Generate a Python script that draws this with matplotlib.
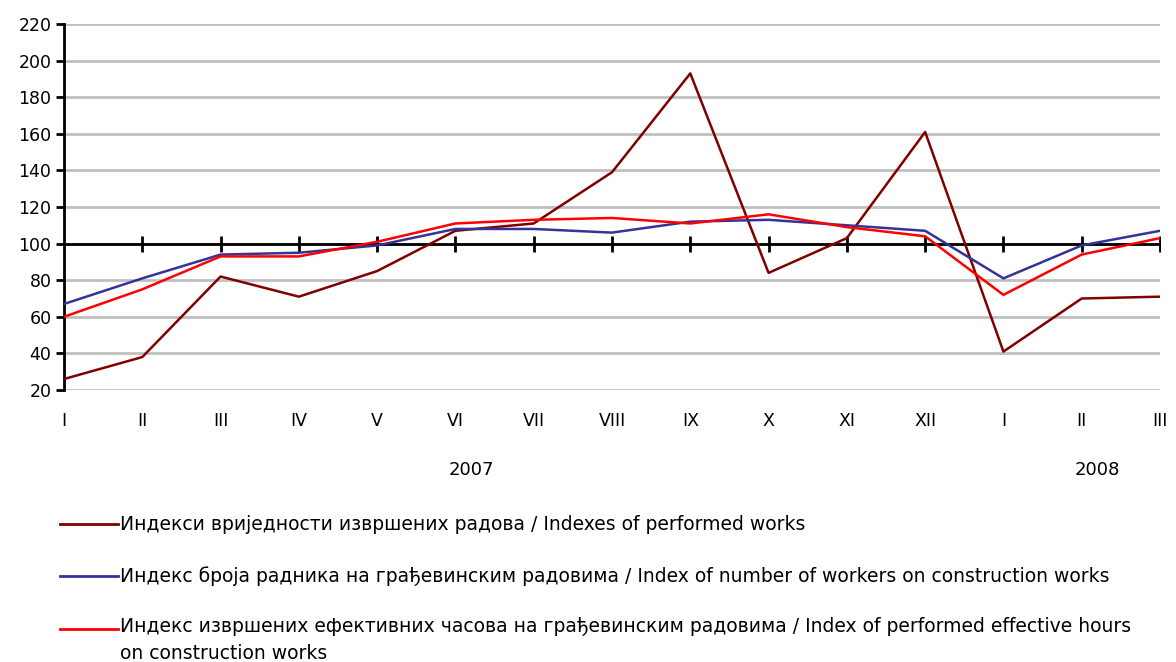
import matplotlib
matplotlib.use("Agg")
import matplotlib.pyplot as plt
from matplotlib.lines import Line2D

############################################################################
##                      Data                                              ##
############################################################################

months = ["I", "II", "III", "IV", "V", "VI", "VII", "VIII", "IX", "X", "XI", "XII",
          "I", "II", "III"]
years = ["2007", "2008"]

performed_works = [26, 38, 82, 71, 85, 107, 111, 139, 193, 84, 103, 161, 41, 70, 71]
workers = [67, 81, 94, 95, 99, 108, 108, 106, 112, 113, 110, 107, 81, 99, 107]
effective_hours = [60, 75, 93, 93, 101, 111, 113, 114, 111, 116, 109, 104, 72, 94, 103]

labels = [
    "Индекси вриједности извршених радова / Indexes of performed works",
    "Индекс броја радника на грађевинским радовима / Index of number of workers on construction works",
    "Индекс извршених ефективних часова на грађевинским радовима / Index of performed effective hours\non construction works",
]
colors = ["#800000", "#333399", "#FF0000"]

yticks = list(range(20, 221, 20))

############################################################################
##                      Plot                                              ##
############################################################################

plt.rcParams['font.family'] = ['DejaVu Sans']
fig = plt.figure(figsize=(11.76, 6.62), dpi=100)
ax = fig.add_axes([64/1176, 1 - 390/662, (1160 - 64)/1176, (390 - 24)/662])

x = list(range(len(months)))

for yv in yticks:
    ax.axhline(yv, color="#C0C0C0", lw=2, zorder=0)

# base line at 100 with category ticks
ax.axhline(100, color="black", lw=2, zorder=1)
ax.plot(x[1:], [100] * (len(x) - 1), ls="none", marker="|", ms=11, mew=2,
        color="black", zorder=1)

series = [performed_works, workers, effective_hours]
for s, c in zip(series, colors):
    ax.plot(x, s, color=c, lw=1.8, zorder=3)

ax.set_xlim(0, len(months) - 1)
ax.set_ylim(20, 220)
ax.set_yticks(yticks)
ax.tick_params(axis="y", labelsize=12.5, length=6, width=2, direction="out", pad=3)
ax.set_xticks(x)
ax.set_xticklabels(months, fontsize=12.5)
ax.tick_params(axis="x", length=0, pad=16)

for sp in ["top", "right", "bottom"]:
    ax.spines[sp].set_visible(False)
ax.spines["left"].set_linewidth(2)

# year labels
ax.text(5.2, -0.218, years[0], transform=ax.get_xaxis_transform(),
        ha="center", va="center", fontsize=13)
ax.text(13.2, -0.218, years[1], transform=ax.get_xaxis_transform(),
        ha="center", va="center", fontsize=13)

# legend, drawn by hand
rows_y = [524, 576, 629]
for lab, c, ry in zip(labels, colors, rows_y):
    yf = 1 - ry / 662
    fig.add_artist(Line2D([60/1176, 118/1176], [yf, yf], color=c, lw=2))
    if "\n" in lab:
        fig.text(120/1176, yf + 12/662, lab, fontsize=13.5, va="top", ha="left",
                 linespacing=1.5)
    else:
        fig.text(120/1176, yf, lab, fontsize=13.5, va="center", ha="left")

fig.savefig("out.png", dpi=100)
